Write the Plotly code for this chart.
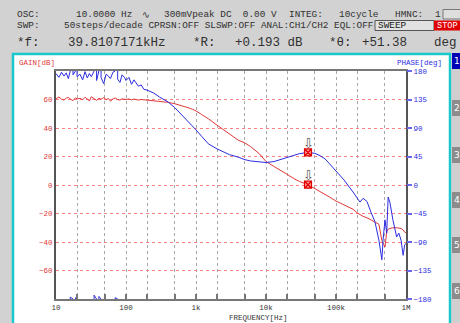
import math
import plotly.graph_objects as go

# ---------------- data ----------------
freq_hz = [10, 11, 12, 13, 14, 15, 16, 17.5, 19, 20, 22, 24, 26, 28, 30, 32, 35, 38, 41, 44,
           48, 52, 56, 60, 65, 70, 76, 82, 88, 95, 100, 110, 120, 130, 140, 150, 165, 180, 200,
           250, 300, 400, 500, 600, 700, 800, 900, 1000, 1200, 1500, 2000, 2500, 3000, 4000,
           5000, 6000, 8000, 10000, 13000, 16000, 20000, 25000, 30000, 39810.7171, 50000,
           60000, 70000, 80000, 100000, 130000, 175000, 200000, 220000, 244000, 277000, 316000,
           360000, 410000, 452000, 470000, 501000, 530000, 556000, 590000, 650000, 735000,
           790000, 850000, 910000, 955000, 1000000]

gain_db = [60.5, 61.8, 60.2, 59.6, 60.9, 61.5, 60.3, 59.2, 61.2, 60.4, 60.8, 59.8, 61.6, 60.1,
           59.0, 61.9, 60.6, 59.4, 60.9, 60.2, 61.3, 59.9, 60.7, 58.9, 60.3, 61.1, 60.0, 59.6,
           60.5, 60.2, 60.0, 60.4, 59.7, 60.3, 60.1, 59.6, 60.0, 59.8, 59.6,
           59.3, 59.0, 58.0, 57.0, 56.0, 55.0, 54.0, 53.0, 52.0, 49.5, 46.5, 42.0, 38.5, 35.5,
           31.5, 29.5, 27.0, 22.0, 16.5, 13.0, 10.5, 7.5, 4.5, 2.5, 0.193, -2.5,
           -5.0, -6.8, -8.3, -11.3, -14.0, -17.0, -19.5, -21.0, -22.0, -23.0, -24.5,
           -25.5, -27.5, -39.0, -41.0, -43.5, -33.0, -31.0, -30.5, -30.0, -30.0,
           -30.0, -30.5, -31.5, -33.0, -33.5]

phase_deg = [176, 170, 178, 172, 177, 168, 183, 174, 182, 171, 175, 166, 179, 169, 176, 171, 186,
             165, 184, 170, 160, 175, 172, 168, 178, 182, 167, 162, 174, 170, 165, 170, 159,
             166, 160, 156, 158, 151, 150,
             145, 139, 131, 122, 113, 106, 99, 93, 87, 77, 65, 57, 52, 48, 44,
             40, 38, 36, 35.5, 37, 40, 43.5, 47, 49.5, 51.38, 50,
             46, 41, 34, 22, 8, -11, -20, -27, -21, -26, -43,
             -58, -87, -118, -87, -55, -76, -19, -28, -55, -82,
             -76, -87, -111, -95, -92]

marker_freq = 39810.7171
marker_gain = 0.193
marker_phase = 51.38

x_grid_vals = [10, 20, 50, 100, 200, 500, 1e3, 2e3, 5e3, 1e4, 2e4, 5e4, 1e5, 2e5, 5e5, 1e6]
x_grid_text = ["10", "", "", "100", "", "", "1k", "", "", "10k", "", "", "100k", "", "", "1M"]
gain_ticks = [-60, -40, -20, 0, 20, 40, 60]
phase_ticks = [-180, -135, -90, -45, 0, 45, 90, 135, 180]

# ---------------- layout helpers ----------------
W, H = 460, 323
L, R, T, B = 56, 54, 71, 24
PW, PH = W - L - R, H - T - B


def px(x):
    return (x - L) / PW


def py(y):
    return (H - B - y) / PH


def wrap_phase(freqs, phases):
    xs, ys = [], []
    prev = None
    for f, p in zip(freqs, phases):
        w = p - 360 if p > 180 else p
        if prev is not None and abs(w - prev) > 180:
            if w < prev:
                xs += [f, None, f]
                ys += [180, None, -180]
            else:
                xs += [f, None, f]
                ys += [-180, None, 180]
        xs.append(f)
        ys.append(w)
        prev = w
    return xs, ys


ph_x, ph_y = wrap_phase(freq_hz, phase_deg)

MONO = "Liberation Mono, DejaVu Sans Mono, monospace"
RED = "#e03838"
BLUE = "#2c2ce0"

fig = go.Figure()
fig.add_trace(go.Scatter(x=freq_hz, y=gain_db, mode="lines",
                         line=dict(color=RED, width=1), yaxis="y", hoverinfo="skip"))
fig.add_trace(go.Scatter(x=ph_x, y=ph_y, mode="lines",
                         line=dict(color=BLUE, width=1), yaxis="y2", hoverinfo="skip"))
for yv, ax in [(marker_gain, "y"), (marker_phase, "y2")]:
    fig.add_trace(go.Scatter(x=[marker_freq], y=[yv], mode="markers", yaxis=ax,
                             marker=dict(symbol="square-x", size=7, color="#ff9a9a",
                                         line=dict(color="#e00000", width=1.2)),
                             hoverinfo="skip"))

shapes = []
# white panel with cyan border
shapes.append(dict(type="rect", xref="paper", yref="paper", x0=px(13), x1=px(450),
                   y0=py(330), y1=py(54), fillcolor="white",
                   line=dict(color="#18c8cc", width=2.5), layer="below"))
# right tab column
shapes.append(dict(type="rect", xref="paper", yref="paper", x0=px(451.5), x1=px(462),
                   y0=py(330), y1=py(53), fillcolor="#cfcfcf", line=dict(width=0),
                   layer="below"))
tab_centers = [61, 108, 155, 200, 245, 291]
for i, c in enumerate(tab_centers):
    shapes.append(dict(type="rect", xref="paper", yref="paper", x0=px(452), x1=px(461),
                       y0=py(c + 8), y1=py(c - 8),
                       fillcolor="#0000b4" if i == 0 else "#8c8c8c",
                       line=dict(width=0), layer="below"))
# header boxes
shapes.append(dict(type="rect", xref="paper", yref="paper", x0=px(443), x1=px(461),
                   y0=py(19), y1=py(9.5), fillcolor="#dedede",
                   line=dict(color="#777", width=1), layer="below"))
shapes.append(dict(type="rect", xref="paper", yref="paper", x0=px(375), x1=px(434),
                   y0=py(30.5), y1=py(20.5), fillcolor="#e2e2e2",
                   line=dict(color="#555", width=1), layer="below"))
shapes.append(dict(type="rect", xref="paper", yref="paper", x0=px(434), x1=px(461),
                   y0=py(30.5), y1=py(20.5), fillcolor="#e00000",
                   line=dict(width=0), layer="below"))

ann = []


def text(x, y, s, size=9.4, color="#303030", anchor="left", font=MONO):
    ann.append(dict(xref="paper", yref="paper", x=px(x), y=py(y), text=s, showarrow=False,
                    xanchor=anchor, yanchor="middle",
                    font=dict(family=font, size=size, color=color)))


# header line 1
text(15, 14.5, "OSC:")
text(74, 14.5, "10.0000 Hz")
text(140, 14.5, "∿", font="DejaVu Sans")
text(162, 14.5, "300mVpeak DC  0.00 V")
text(287, 14.5, "INTEG:")
text(337, 14.5, "10cycle")
text(393, 14.5, "HMNC:")
text(433, 14.5, "1")
# header line 2
text(15, 25.5, "SWP:")
text(62, 25.5, "50steps/decade CPRSN:OFF SLSWP:OFF ANAL:CH1/CH2 EQL:OFF")
text(376, 25.5, "SWEEP", color="#202020")
text(435, 25.5, "STOP", size=8.6, color="white")
# header line 3
text(15, 43.5, "*f:", size=12.5)
text(66, 43.5, "39.8107171kHz", size=12.5)
text(191, 43.5, "*R:", size=12.5)
text(233, 43.5, "+0.193 dB", size=12.5)
text(327, 43.5, "*θ:", size=12.5)
text(360, 43.5, "+51.38", size=12.5)
text(432, 43.5, "deg", size=12.5)

# axis titles
text(17, 62.5, "GAIN[dB]", size=7.5, color=RED)
text(444, 62.5, "PHASE[deg]", size=7.5, color=BLUE, anchor="right")
text(258, 318, "FREQUENCY[Hz]", size=7.5, color="#333", anchor="center")

# tabs labels
for i, c in enumerate(tab_centers):
    text(456.5, c, str(i + 1), size=9, color="white", anchor="center", font="DejaVu Sans")

# marker arrows
for yv, ax in [(marker_gain, "y"), (marker_phase, "y2")]:
    ann.append(dict(x=math.log10(marker_freq), xref="x", y=yv, yref=ax, text="⇩",
                    showarrow=False, yshift=9,
                    font=dict(family="DejaVu Sans", size=13, color="#555")))

fig.update_layout(
    width=W, height=H, autosize=False,
    margin=dict(l=L, r=R, t=T, b=B, pad=0),
    paper_bgcolor="#d2d2d2", plot_bgcolor="white",
    showlegend=False, shapes=shapes, annotations=ann,
    xaxis=dict(type="log", range=[1, 6], tickvals=x_grid_vals, ticktext=x_grid_text,
               showgrid=True, gridcolor="#a8a8a8", griddash="dot", gridwidth=1,
               ticks="inside", ticklen=5, tickwidth=2, tickcolor="#777",
               showline=True, linecolor="#777", linewidth=2, mirror=True,
               tickfont=dict(family=MONO, size=7.5, color="#333"), zeroline=False,
               fixedrange=True),
    yaxis=dict(range=[-80, 80], tickvals=gain_ticks, showgrid=True, gridcolor="#ff8080",
               griddash="dot", gridwidth=1, zeroline=False, ticks="",
               showline=True, linecolor="#555", linewidth=2, mirror=True,
               tickfont=dict(family=MONO, size=7.5, color=RED), fixedrange=True),
    yaxis2=dict(range=[-180, 180], tickvals=phase_ticks, overlaying="y", side="right",
                showgrid=False, zeroline=False, ticks="outside", ticklen=5, tickwidth=2,
                tickcolor="#6a6af0", showline=False,
                tickfont=dict(family=MONO, size=7.5, color=BLUE), fixedrange=True),
)

fig.write_html("out.html",
               config={"displayModeBar": False, "staticPlot": True},
               post_script="document.body.style.margin='0';"
                           "document.body.style.overflow='hidden';")
